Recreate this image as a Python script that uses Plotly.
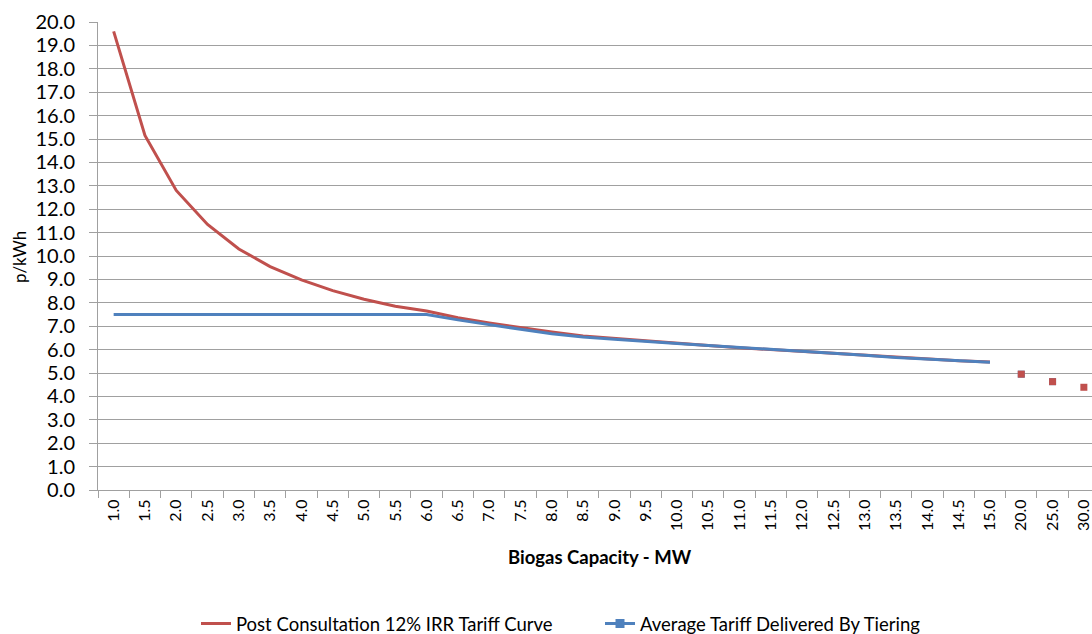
import plotly.graph_objects as go

capacity = ["1.0", "1.5", "2.0", "2.5", "3.0", "3.5", "4.0", "4.5", "5.0", "5.5",
            "6.0", "6.5", "7.0", "7.5", "8.0", "8.5", "9.0", "9.5", "10.0", "10.5",
            "11.0", "11.5", "12.0", "12.5", "13.0", "13.5", "14.0", "14.5", "15.0"]
large_capacity = ["20.0", "25.0", "30.0"]

post_consultation = [19.6, 15.15, 12.8, 11.35, 10.3, 9.55, 8.98, 8.52, 8.15, 7.85,
                     7.65, 7.36, 7.14, 6.93, 6.75, 6.58, 6.47, 6.37, 6.26, 6.17,
                     6.08, 6.0, 5.9, 5.81, 5.73, 5.65, 5.58, 5.52, 5.47]
post_consultation_large = [4.95, 4.63, 4.39]

avg_tiering = [7.5, 7.5, 7.5, 7.5, 7.5, 7.5, 7.5, 7.5, 7.5, 7.5,
               7.5, 7.27, 7.06, 6.87, 6.68, 6.54, 6.44, 6.34, 6.26, 6.18,
               6.1, 6.03, 5.93, 5.84, 5.76, 5.66, 5.59, 5.52, 5.46]
avg_tiering_large = [4.95, 4.63]

all_categories = capacity + large_capacity
y_ticks = [i for i in range(0, 21)]

RED = "#C0504D"
BLUE = "#4F81BD"
FONT = "Lato"

fig = go.Figure()
fig.add_trace(go.Scatter(x=capacity, y=post_consultation, mode="lines",
                         line=dict(color=RED, width=3),
                         name="Post Consultation 12% IRR Tariff Curve",
                         legendgroup="red"))
fig.add_trace(go.Scatter(x=capacity, y=avg_tiering, mode="lines",
                         line=dict(color=BLUE, width=3),
                         showlegend=False, legendgroup="blue"))
fig.add_trace(go.Scatter(x=large_capacity[:2], y=avg_tiering_large, mode="markers",
                         marker=dict(color=BLUE, symbol="square", size=7),
                         showlegend=False, legendgroup="blue"))
fig.add_trace(go.Scatter(x=large_capacity, y=post_consultation_large, mode="markers",
                         marker=dict(color=RED, symbol="square", size=7),
                         showlegend=False, legendgroup="red"))
# legend entry for the tiering series (line with square marker)
fig.add_trace(go.Scatter(x=[None], y=[None], mode="lines+markers",
                         line=dict(color=BLUE, width=3),
                         marker=dict(color=BLUE, symbol="square", size=9),
                         name="Average Tariff Delivered By Tiering",
                         legendgroup="blue"))

ml, mt, mb = 98, 22, 144
W, H = 1092, 634
pw = W - ml
ph = H - mt - mb

fig.update_layout(
    width=W, height=H,
    margin=dict(l=ml, r=0, t=mt, b=mb, pad=0, autoexpand=False),
    plot_bgcolor="white", paper_bgcolor="white",
    font=dict(family=FONT, color="black"),
    showlegend=True,
    legend=dict(orientation="h", x=(196 - ml) / pw, xanchor="left",
                yref="container", y=(H - 624) / H, yanchor="middle",
                font=dict(size=18.5, family=FONT, color="black"),
                entrywidth=359, entrywidthmode="pixels",
                itemwidth=30, bgcolor="rgba(0,0,0,0)"),
    xaxis=dict(type="category", categoryorder="array", categoryarray=all_categories,
               range=[-0.5, 31.26], tickangle=-90,
               tickfont=dict(size=16, family=FONT, color="black"),
               ticks="outside", ticklen=7, tickcolor="#a0a0a0", tickson="boundaries",
               showline=True, linecolor="#a0a0a0", linewidth=1,
               showgrid=False, zeroline=False, ticklabelstandoff=2),
    yaxis=dict(range=[0, 20], tickvals=y_ticks, tickformat=".1f",
               tickfont=dict(size=20, family=FONT, color="black"),
               ticks="outside", ticklen=8, tickcolor="#a0a0a0",
               showline=True, linecolor="#a0a0a0", linewidth=1,
               showgrid=True, gridcolor="#a0a0a0", gridwidth=1,
               zeroline=False, ticklabelstandoff=10),
    annotations=[
        dict(text="<b>Biogas Capacity - MW</b>", xref="paper", yref="paper",
             x=(600 - ml) / pw, y=-(557 - (mt + ph)) / ph,
             xanchor="center", yanchor="middle", showarrow=False,
             font=dict(size=18.5, family=FONT, color="black")),
        dict(text="p/kWh", xref="paper", yref="paper",
             x=(19 - ml) / pw, y=(mt + ph - 257) / ph,
             xanchor="center", yanchor="middle", showarrow=False, textangle=-90,
             font=dict(size=17, family=FONT, color="black")),
    ],
)

fig.write_html("out.html", config={"displayModeBar": False},
               post_script="document.body.style.margin='0';document.body.style.overflow='hidden';")
